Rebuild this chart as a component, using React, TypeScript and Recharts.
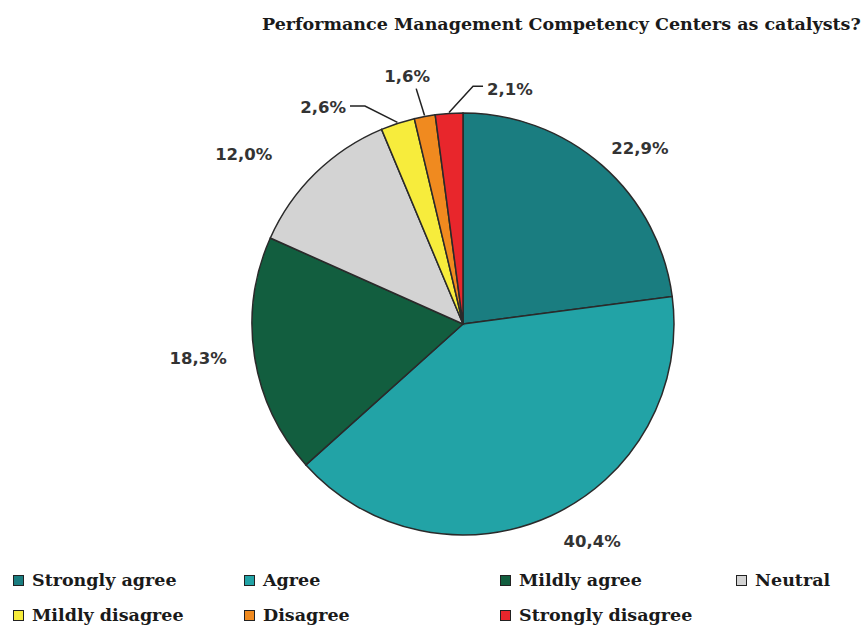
import { PieChart, Pie, Cell, Legend } from 'recharts'

const categories = ['Strongly agree', 'Agree', 'Mildly agree', 'Neutral', 'Mildly disagree', 'Disagree', 'Strongly disagree']
const shares = [22.9, 40.4, 18.3, 12.0, 2.6, 1.6, 2.1]
const colors = ['#1a7d80', '#22a3a6', '#125e3f', '#d3d3d3', '#f7ec3c', '#f08a1f', '#e8262c']
const title = 'Performance Management Competency Centers as catalysts?'

const data = categories.map((name, i) => ({ name, value: shares[i] }))

// label placement relative to each slice's mid angle (degrees) and outer radius
const labelLayout = [
  { da: -4, dr: 38, line: false, hx: 0, anchor: 'middle', tx: 0, ty: 0 },
  { da: 6, dr: 42, line: false, hx: 0, anchor: 'middle', tx: 0, ty: 0 },
  { da: -1.5, dr: 56, line: false, hx: 0, anchor: 'middle', tx: 0, ty: 0 },
  { da: 8, dr: 66, line: false, hx: 0, anchor: 'middle', tx: 0, ty: 0 },
  { da: 6.2, dr: 28, line: true, hx: -15, anchor: 'end', tx: -4, ty: 1 },
  { da: 0.8, dr: 29, line: true, hx: 0, anchor: 'middle', tx: -9, ty: -12 },
  { da: -6.2, dr: 27, line: true, hx: 10, anchor: 'start', tx: 4, ty: 3 },
]

const RAD = Math.PI / 180
const fmt = (v: number) => v.toFixed(1).replace('.', ',') + '%'

// eslint-disable-next-line @typescript-eslint/no-explicit-any
const renderLabel = (props: any) => {
  const { cx, cy, midAngle, outerRadius, index, value } = props
  const l = labelLayout[index]
  const a = (midAngle + l.da) * RAD
  const ex = cx + (outerRadius + l.dr) * Math.cos(-a)
  const ey = cy + (outerRadius + l.dr) * Math.sin(-a)
  const sx = cx + (outerRadius + 1) * Math.cos(-midAngle * RAD)
  const sy = cy + (outerRadius + 1) * Math.sin(-midAngle * RAD)
  const hx = ex + l.hx
  return (
    <g key={'lbl' + index}>
      {l.line && (
        <polyline points={`${sx},${sy} ${ex},${ey} ${hx},${ey}`} fill="none" stroke="#222" strokeWidth={1.5} />
      )}
      <text
        x={hx + l.tx}
        y={ey + l.ty}
        textAnchor={l.anchor}
        dominantBaseline="central"
        fill="#333"
        fontFamily="DejaVu Sans"
        fontWeight="bold"
        fontSize={16.5}
      >
        {fmt(value)}
      </text>
    </g>
  )
}

const legendCols = [13, 244, 500, 736]
const legendRows = [580, 615]

const renderLegend = () => (
  <div style={{ position: 'relative', width: 862, height: 60 }}>
    {categories.map((name, i) => {
      const col = i < 4 ? i : i - 4
      const row = i < 4 ? 0 : 1
      return (
        <div
          key={name}
          style={{
            position: 'absolute',
            left: legendCols[col],
            top: legendRows[row] - 566 - 11,
            display: 'flex',
            alignItems: 'center',
            height: 22,
            fontFamily: 'DejaVu Serif',
            fontWeight: 'bold',
            fontSize: 17.5,
            color: '#1a1a1a',
            whiteSpace: 'nowrap',
          }}
        >
          <span
            style={{
              display: 'inline-block',
              width: 9,
              height: 9,
              background: colors[i],
              border: '1.5px solid #222',
              marginRight: 8,
            }}
          />
          {name}
        </div>
      )
    })}
  </div>
)

export default function App() {
  return (
    <div style={{ position: 'absolute', left: 0, top: 0, width: 862, height: 627, background: '#fff', overflow: 'hidden' }}>
      <div
        style={{
          position: 'absolute',
          left: 262,
          top: 12,
          width: 598,
          fontFamily: 'DejaVu Serif',
          fontWeight: 'bold',
          fontSize: 17.5,
          lineHeight: '24px',
          color: '#1a1a1a',
          whiteSpace: 'nowrap',
        }}
      >
        {title}
      </div>
      <div style={{ position: 'absolute', left: 0, top: 0 }}>
        <PieChart width={862} height={627} margin={{ top: 0, right: 0, bottom: 0, left: 0 }}>
          <Pie
            data={data}
            dataKey="value"
            nameKey="name"
            cx={463}
            cy={324}
            outerRadius={211}
            startAngle={90}
            endAngle={-270}
            stroke="#2a2a2a"
            strokeWidth={1.5}
            label={renderLabel}
            labelLine={false}
            isAnimationActive={false}
          >
            {data.map((d, i) => (
              <Cell key={d.name} fill={colors[i]} />
            ))}
          </Pie>
          <Legend content={renderLegend} wrapperStyle={{ position: 'absolute', left: 0, top: 566, width: 862 }} />
        </PieChart>
      </div>
    </div>
  )
}
